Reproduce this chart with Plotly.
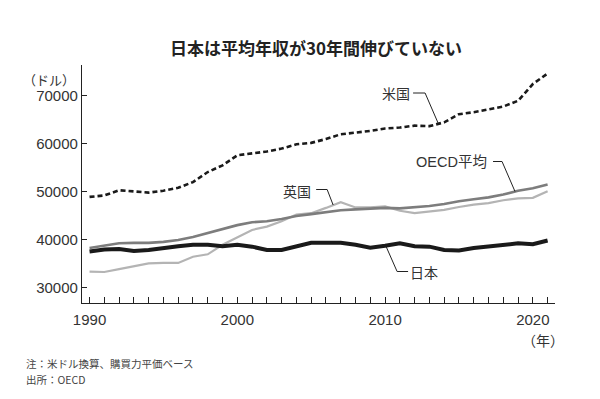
import plotly.graph_objects as go

years = list(range(1990, 2022))
usa = [48900, 49200, 50300, 50000, 49800, 50200, 50800, 52000, 54100, 55500,
       57600, 58000, 58400, 59000, 59900, 60200, 61000, 62000, 62300, 62700,
       63200, 63400, 63800, 63700, 64500, 66200, 66600, 67200, 67800, 69000,
       72500, 74700]
oecd = [38200, 38700, 39200, 39300, 39300, 39500, 39900, 40500, 41300, 42200,
        43000, 43600, 43800, 44300, 44900, 45300, 45700, 46100, 46300, 46500,
        46600, 46500, 46700, 47000, 47400, 48000, 48400, 48800, 49400, 50200,
        50700, 51500]
uk = [33300, 33200, 33800, 34400, 35000, 35100, 35100, 36400, 36900, 38900,
      40400, 42000, 42700, 43800, 45200, 45500, 46600, 47800, 46700, 46700,
      46900, 46000, 45500, 45800, 46200, 46800, 47300, 47600, 48200, 48600,
      48700, 50100]
japan = [37500, 37900, 38000, 37600, 37800, 38300, 38600, 38900, 38900, 38600,
         38900, 38500, 37800, 37800, 38500, 39300, 39300, 39300, 38900, 38300,
         38700, 39200, 38600, 38500, 37800, 37700, 38200, 38500, 38900, 39200,
         39000, 39800]

x_tickvals = [1990, 2000, 2010, 2020]
x_ticktext = ["1990", "2000", "2010", "2020"]
y_tickvals = [30000, 40000, 50000, 60000, 70000]
y_ticktext = ["30000", "40000", "50000", "60000", "70000"]

title_text = "日本は平均年収が30年間伸びていない"
y_unit = "（ドル）"
x_unit = "（年）"
note1 = "注：米ドル換算、購買力平価ベース"
note2 = "出所：OECD"

JP = "Noto Sans CJK JP"
NUM = "Liberation Sans, Noto Sans CJK JP"

# plot area in pixels
L, R, T, B = 81.7, 555.0, 65.0, 303.0
W, H = 600, 399


def P(px, py):
    return (px - L) / (R - L), (B - py) / (B - T)


fig = go.Figure()
fig.add_trace(go.Scatter(x=years, y=uk, mode="lines", name="英国",
                         line=dict(color="#b4b4b4", width=2.2)))
fig.add_trace(go.Scatter(x=years, y=oecd, mode="lines", name="OECD平均",
                         line=dict(color="#7d7d7d", width=2.6)))
fig.add_trace(go.Scatter(x=years, y=japan, mode="lines", name="日本",
                         line=dict(color="#1a1a1a", width=4.0)))
fig.add_trace(go.Scatter(x=years, y=usa, mode="lines", name="米国",
                         line=dict(color="#1a1a1a", width=2.6, dash="5px,3px")))

shapes = []


def leader(points):
    path = ""
    for i, (px, py) in enumerate(points):
        ux, uy = P(px, py)
        path += ("M" if i == 0 else "L") + f"{ux},{uy} "
    shapes.append(dict(type="path", xref="paper", yref="paper", path=path,
                       line=dict(color="#222", width=1)))


annotations = []


def label(text, px, py, size, anchor="center", family=JP, color="#333"):
    ux, uy = P(px, py)
    annotations.append(dict(text=text, x=ux, y=uy, xref="paper", yref="paper",
                            showarrow=False, xanchor=anchor, yanchor="middle",
                            font=dict(family=family, size=size, color=color)))


label("米国", 396, 93, 14)
leader([(413, 93), (425, 93), (438, 123)])
label("OECD平均", 451, 162, 14.5, family=NUM)
leader([(493, 161.5), (502, 161.5), (515, 191.5)])
label("英国", 297, 191, 14)
leader([(316, 189.5), (327, 189.5), (333, 205)])
label("日本", 424, 272, 14)
leader([(386, 246.5), (397, 271.5), (408, 271.5)])

ux, uy = P(316, 47)
annotations.append(dict(text="<b>" + title_text + "</b>", x=ux, y=uy, xref="paper",
                        yref="paper", showarrow=False, xanchor="center",
                        yanchor="middle", font=dict(family=JP, size=17, color="#222")))
label(y_unit, 77, 79, 13, anchor="right")
label(x_unit, 543, 340, 14)
label(note1, 24, 363, 10.5, anchor="left", color="#444")
label(note2, 24, 379, 10.5, anchor="left", color="#444")

fig.update_layout(
    width=W, height=H,
    margin=dict(l=L, r=W - R, t=T, b=H - B, pad=0),
    paper_bgcolor="white", plot_bgcolor="white",
    showlegend=False,
    shapes=shapes, annotations=annotations,
    xaxis=dict(range=[1989.49, 2021.5], tickvals=x_tickvals, ticktext=x_ticktext,
               ticks="inside", ticklen=6, tickcolor="#222", tickwidth=1,
               minor=dict(dtick=1, tick0=1990, ticks="inside", ticklen=6,
                          tickcolor="#222", tickwidth=1, showgrid=False),
               showline=True, linecolor="#222", linewidth=1.2, showgrid=False,
               zeroline=False, ticklabelstandoff=3,
               tickfont=dict(family=NUM, size=15, color="#333")),
    yaxis=dict(range=[26720, 76480], tickvals=y_tickvals, ticktext=y_ticktext,
               ticks="inside", ticklen=5, tickcolor="#222", tickwidth=1,
               showline=True, linecolor="#222", linewidth=1.2, showgrid=False,
               zeroline=False, ticklabelstandoff=0,
               tickfont=dict(family=NUM, size=15, color="#333")),
)

fig.write_html("out.html", config={"displayModeBar": False},
               post_script="document.body.style.margin='0';document.body.style.padding='0';")
